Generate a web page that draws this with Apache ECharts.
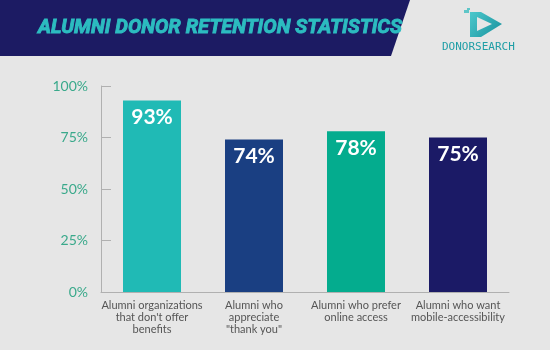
<!DOCTYPE html>
<html>
<head>
<meta charset="utf-8">
<script src="https://cdn.jsdelivr.net/npm/echarts@6/dist/echarts.min.js"></script>
<style>
  html, body { margin: 0; padding: 0; background: #e6e6e6; }
  #chart { width: 550px; height: 350px; }
</style>
</head>
<body>
<div id="chart"></div>
<script>
// retention chart data
var categories = [
    "Alumni organizations\nthat don't offer\nbenefits",
    "Alumni who\nappreciate\n\"thank you\"",
    "Alumni who prefer\nonline access",
    "Alumni who want\nmobile-accessibility"
];
var values = [93, 74, 78, 75];
var barColors = ['#20bab5', '#1a3f82', '#04ac8e', '#1b1a66'];
var yTicks = [0, 25, 50, 75, 100];

var myChart = echarts.init(document.getElementById('chart'));

var logoFill = new echarts.graphic.LinearGradient(0, 0, 1, 1, [
    { offset: 0, color: '#4cc8cc' },
    { offset: 1, color: '#17909c' }
]);

var option = {
    backgroundColor: '#e6e6e6',
    animation: false,
    title: {
        text: 'ALUMNI DONOR RETENTION STATISTICS',
        left: 33,
        top: 13,
        textStyle: {
            color: '#2cbcc0',
            fontFamily: 'Roboto',
            fontStyle: 'italic',
            fontWeight: 'bold',
            fontSize: 20,
            // a thin stroke to make it look heavier
            textBorderColor: '#2cbcc0',
            textBorderWidth: 0.9
        }
    },
    graphic: [
        {
            type: 'polygon',
            z: -1,
            shape: { points: [[0, 0], [410, 0], [391, 56], [0, 56]] },
            style: { fill: '#1c1b63' }
        },
        // logo, rough
        {
            type: 'polygon',
            shape: { points: [[470, 12], [481, 12], [502, 24], [481, 37], [470, 37]] },
            style: { fill: logoFill }
        },
        {
            type: 'polygon',
            shape: { points: [[477, 17], [492, 24], [477, 31]] },
            style: { fill: '#e6e6e6' }
        },
        {
            type: 'rect',
            shape: { x: 464, y: 10, width: 5, height: 3 },
            style: { fill: '#5fc6c8' }
        },
        {
            type: 'rect',
            shape: { x: 467, y: 8, width: 3, height: 2 },
            style: { fill: '#5fc6c8' }
        },
        {
            type: 'text',
            left: 442,
            top: 42,
            style: {
                text: 'DONORSEARCH',
                fill: '#1f9ea6',
                font: '11px "DejaVu Sans Mono"'
            }
        }
    ],
    grid: {
        left: 101,
        right: 41,
        top: 86,
        bottom: 58
    },
    xAxis: {
        type: 'category',
        data: categories,
        axisLine: { lineStyle: { color: '#b0b0b0' } },
        axisTick: { show: false },
        axisLabel: {
            color: '#555',
            fontFamily: 'Lato',
            fontSize: 11,
            lineHeight: 12,
            margin: 7,
            interval: 0
        }
    },
    yAxis: {
        type: 'value',
        min: yTicks[0],
        max: yTicks[yTicks.length - 1],
        interval: 25,
        axisLine: { show: true, lineStyle: { color: '#b0b0b0' } },
        axisTick: { show: true, inside: true, length: 10, lineStyle: { color: '#b0b0b0' } },
        splitLine: { show: false },
        axisLabel: {
            color: '#3aa98b',
            fontFamily: 'Lato',
            fontSize: 14,
            margin: 13,
            formatter: '{value}%'
        }
    },
    series: [{
        type: 'bar',
        barWidth: 58,
        data: values.map(function (v, i) {
            return { value: v, itemStyle: { color: barColors[i] } };
        }),
        label: {
            show: true,
            position: 'insideTop',
            distance: 6,
            color: '#fff',
            fontFamily: 'Lato',
            fontWeight: 'bold',
            fontSize: 21,
            formatter: '{c}%'
        }
    }]
};

myChart.setOption(option);
</script>
</body>
</html>
